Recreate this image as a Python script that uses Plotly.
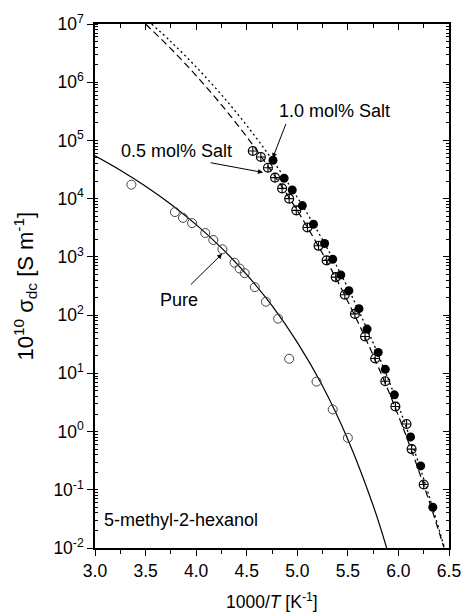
import plotly.graph_objects as go

# ---- data ----
pure_x = [3.36, 3.79, 3.87, 3.96, 4.09, 4.17, 4.26, 4.38, 4.43, 4.48, 4.58, 4.69, 4.81, 4.92, 5.19, 5.35, 5.50]
pure_y = [17400, 5890, 4680, 3800, 2570, 1950, 1350, 794, 631, 525, 302, 170, 87, 17.8, 7.2, 2.4, 0.78]

salt05_x = [4.56, 4.64, 4.71, 4.78, 4.85, 4.92, 4.99, 5.10, 5.21, 5.29, 5.38, 5.47, 5.57, 5.67, 5.77, 5.87, 5.97, 6.08, 6.13, 6.25]
salt05_y = [66000, 52000, 34000, 23000, 15000, 10000, 6300, 3200, 1550, 870, 450, 224, 105, 43, 18, 7.3, 2.7, 1.35, 0.50, 0.123]

salt10_x = [4.76, 4.87, 4.95, 5.05, 5.16, 5.27, 5.35, 5.43, 5.51, 5.61, 5.69, 5.80, 5.87, 5.96, 6.12, 6.22, 6.34]
salt10_y = [45700, 22400, 14100, 7600, 3630, 1700, 912, 490, 263, 129, 57.5, 22.9, 11.7, 4.27, 0.81, 0.257, 0.050]

# fit curves
pure_fit_x = [3.0, 3.25, 3.5, 3.75, 4.0, 4.25, 4.5, 4.75, 5.0, 5.25, 5.5, 5.75, 5.885]
pure_fit_y = [54600, 30900, 16400, 8040, 3580, 1430, 495, 145, 34.0, 6.07, 0.733, 0.0538, 0.00986]

salt05_fit_x = [3.5, 3.75, 4.0, 4.25, 4.5, 4.75, 5.0, 5.25, 5.5, 5.75, 6.0, 6.25, 6.45]
salt05_fit_y = [1.0e7, 3.77e6, 1.30e6, 4.09e5, 1.156e5, 2.88e4, 6240, 1140, 172, 20.5, 1.87, 0.121, 0.0102]

salt10_fit_x = [3.56, 3.75, 4.0, 4.25, 4.5, 4.75, 5.0, 5.25, 5.5, 5.75, 6.0, 6.25, 6.45]
salt10_fit_y = [1.0e7, 4.98e6, 1.83e6, 6.10e5, 1.81e5, 4.72e4, 1.05e4, 1960, 292, 33.5, 2.79, 0.154, 0.0107]

x_ticks = [3.0, 3.5, 4.0, 4.5, 5.0, 5.5, 6.0, 6.5]
y_exps = [-2, -1, 0, 1, 2, 3, 4, 5, 6, 7]

FONT = "Liberation Sans, Arial, sans-serif"

fig = go.Figure()

fig.add_trace(go.Scatter(x=salt05_fit_x, y=salt05_fit_y, mode="lines", line=dict(color="black", width=1.2, dash="7px,4px", shape="spline"), showlegend=False))
fig.add_trace(go.Scatter(x=salt10_fit_x, y=salt10_fit_y, mode="lines", line=dict(color="black", width=1.3, dash="2px,3px", shape="spline"), showlegend=False))
fig.add_trace(go.Scatter(x=pure_fit_x, y=pure_fit_y, mode="lines", line=dict(color="black", width=1.2, shape="spline"), showlegend=False))

fig.add_trace(go.Scatter(x=pure_x, y=pure_y, mode="markers",
                         marker=dict(symbol="circle-open", size=9, color="#444", line=dict(width=1)), showlegend=False))
fig.add_trace(go.Scatter(x=salt10_x, y=salt10_y, mode="markers",
                         marker=dict(symbol="circle", size=9, color="black"), showlegend=False))
fig.add_trace(go.Scatter(x=salt05_x, y=salt05_y, mode="markers",
                         marker=dict(symbol="circle-cross-open", size=9, color="black", line=dict(width=1.1)), showlegend=False))

# invisible trace for mirrored axes
fig.add_trace(go.Scatter(x=[3], y=[1], xaxis="x2", yaxis="y2", mode="markers",
                         marker=dict(opacity=0), showlegend=False, hoverinfo="skip"))

tickfont = dict(family=FONT, size=17.5, color="black")

fig.update_layout(
    width=473, height=612,
    margin=dict(l=95, r=16, t=24, b=64),
    paper_bgcolor="white", plot_bgcolor="white",
    font=dict(family=FONT, color="black"),
    xaxis=dict(range=[3, 6.5], tickvals=x_ticks, ticktext=[f"{v:.1f}" for v in x_ticks],
               ticks="outside", ticklen=6, tickwidth=1.3, tickcolor="black",
               minor=dict(dtick=0.25, tick0=3, ticks="outside", ticklen=4, tickwidth=1.2, tickcolor="black"),
               showline=True, linecolor="black", linewidth=1.5, showgrid=False, zeroline=False,
               tickfont=tickfont),
    xaxis2=dict(range=[3, 6.5], overlaying="x", side="top", tickvals=x_ticks, showticklabels=False,
                ticks="inside", ticklen=6, tickwidth=1.3, tickcolor="black",
                minor=dict(dtick=0.25, tick0=3, ticks="inside", ticklen=4, tickwidth=1.2, tickcolor="black"),
                showline=True, linecolor="black", linewidth=1.5, showgrid=False, zeroline=False),
    yaxis=dict(type="log", range=[-2, 7], tickvals=[10.0 ** e for e in y_exps],
               ticktext=[f"10<sup>{e}</sup>" for e in y_exps],
               ticks="outside", ticklen=6, tickwidth=1.3, tickcolor="black",
               minor=dict(dtick="D1", ticks="inside", ticklen=3, tickwidth=1, tickcolor="black"),
               showline=True, linecolor="black", linewidth=1.5, showgrid=False, zeroline=False,
               tickfont=tickfont),
    yaxis2=dict(type="log", range=[-2, 7], overlaying="y", side="right", tickvals=[10.0 ** e for e in y_exps],
                showticklabels=False, ticks="inside", ticklen=6, tickwidth=1.3, tickcolor="black",
                minor=dict(dtick="D1", ticks="inside", ticklen=3, tickwidth=1, tickcolor="black"),
                showline=True, linecolor="black", linewidth=1.5, showgrid=False, zeroline=False),
)

ann_font = dict(family=FONT, size=18, color="black")
annotations = [
    dict(text="1.0 mol% Salt", x=5.369, y=5.498, xref="x", yref="y", showarrow=False, font=ann_font),
    dict(text="0.5 mol% Salt", x=3.81, y=4.811, xref="x", yref="y", showarrow=False, font=ann_font),
    dict(text="Pure", x=3.832, y=2.254, xref="x", yref="y", showarrow=False, font=ann_font),
    dict(text="5-methyl-2-hexanol", x=3.065, y=-1.517, xref="x", yref="y", xanchor="left", showarrow=False, font=ann_font),
    # arrows
    dict(text="", x=4.757, y=4.698, ax=4.893, ay=5.309, xref="x", yref="y", axref="x", ayref="y",
         showarrow=True, arrowhead=2, arrowsize=1, arrowwidth=1, arrowcolor="black"),
    dict(text="", x=4.661, y=4.450, ax=4.129, ay=4.622, xref="x", yref="y", axref="x", ayref="y",
         showarrow=True, arrowhead=2, arrowsize=1, arrowwidth=1, arrowcolor="black"),
    dict(text="", x=4.257, y=3.053, ax=3.933, ay=2.50, xref="x", yref="y", axref="x", ayref="y",
         showarrow=True, arrowhead=2, arrowsize=1, arrowwidth=1, arrowcolor="black"),
    # axis titles
    dict(text="1000/<i>T</i> [K<sup>-1</sup>]", x=0.5, y=-0.102, xref="paper", yref="paper",
         showarrow=False, font=dict(family=FONT, size=17.5, color="black"), yanchor="middle"),
    dict(text="10<sup>10</sup> σ<sub>dc</sub> [S m<sup>-1</sup>]", x=-0.199, y=0.5, xref="paper", yref="paper",
         textangle=-90, showarrow=False, font=dict(family=FONT, size=22, color="black"), xanchor="center"),
]
fig.update_layout(annotations=annotations)

fig.write_html("out.html")
